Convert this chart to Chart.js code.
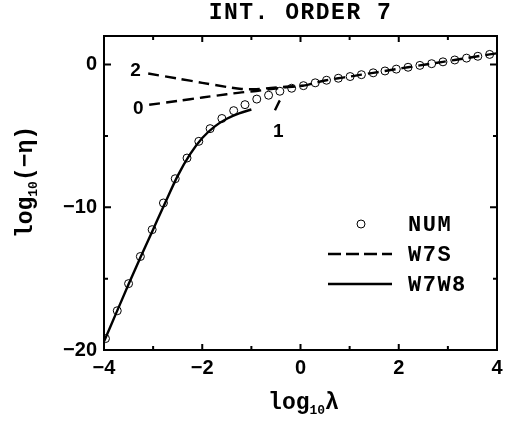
<!DOCTYPE html>
<html lang="en">
<head>
<meta charset="UTF-8">
<title>INT. ORDER 7</title>
<style>
    body {
        margin: 0;
        background: #fff;
    }
    #chartContainer {
        width: 510px;
        height: 424px;
    }
</style>
<script src="https://cdn.jsdelivr.net/npm/chart.js"></script>
</head>
<body>
<div id="chartContainer">
    <canvas id="myChart" width="510" height="424"></canvas>
</div>
<script>
    // NUM (open circles)
    const numX = [-3.97, -3.73, -3.50, -3.26, -3.02, -2.79, -2.55, -2.31, -2.07, -1.84, -1.60, -1.36,
                  -1.13, -0.89, -0.65, -0.42, -0.18, 0.06, 0.30, 0.53, 0.77, 1.01, 1.24, 1.48,
                  1.72, 1.95, 2.19, 2.43, 2.67, 2.90, 3.14, 3.38, 3.61, 3.85];
    const numY = [-19.2, -17.25, -15.35, -13.45, -11.57, -9.70, -8.0, -6.55, -5.38, -4.49, -3.78, -3.23,
                  -2.81, -2.42, -2.15, -1.87, -1.66, -1.48, -1.28, -1.10, -0.96, -0.84, -0.71, -0.58,
                  -0.45, -0.32, -0.19, -0.06, 0.06, 0.19, 0.32, 0.45, 0.58, 0.71];

    // W7W8 (solid)
    const w7w8X = [-4.0, -3.75, -3.5, -3.25, -3.0, -2.75, -2.5, -2.25, -2.0, -1.75, -1.5, -1.25, -1.0];
    const w7w8Y = [-19.4, -17.4, -15.4, -13.45, -11.55, -9.65, -7.8, -6.3, -5.15, -4.35, -3.8, -3.42, -3.15];

    // W7S (dashed), three branches that join near log10(lambda) = 0
    const w7s0X = [-3.08, -2.5, -2.0, -1.5, -1.2, -0.9, -0.6, -0.3];
    const w7s0Y = [-2.82, -2.55, -2.31, -2.08, -1.95, -1.85, -1.72, -1.60];
    const w7s2X = [-3.10, -2.5, -2.0, -1.5, -1.2, -0.9, -0.6, -0.3, 0.06];
    const w7s2Y = [-0.63, -0.98, -1.28, -1.57, -1.71, -1.72, -1.64, -1.55, -1.48];
    const w7s1X = [-0.52, -0.43, -0.35];
    const w7s1Y = [-3.2, -2.57, -2.2];
    const w7sTailX = [0.06, 0.30, 0.53, 0.77, 1.01, 1.24, 1.48, 1.72, 1.95, 2.19, 2.43, 2.67, 2.90, 3.14, 3.38, 3.61, 3.85, 4.0];
    const w7sTailY = [-1.48, -1.28, -1.10, -0.96, -0.84, -0.71, -0.58, -0.45, -0.32, -0.19, -0.06, 0.06, 0.19, 0.32, 0.45, 0.58, 0.71, 0.79];

    // branch labels
    const branchNames = ['2', '0', '1'];
    const branchLabelX = [-3.36, -3.30, -0.45];
    const branchLabelY = [-0.47, -3.09, -4.70];

    const xMajor = [-4, -2, 0, 2, 4];
    const yMajor = [-20, -10, 0];

    const MINUS = '\u2212';
    const pts = (xs, ys) => xs.map((x, i) => ({ x: x, y: ys[i] }));
    const fmt = v => (v < 0 ? MINUS + Math.abs(v) : String(v));

    const dash = [11, 6];
    const lineDs = (label, data, extra) => Object.assign({
        label: label,
        data: data,
        showLine: true,
        borderColor: '#000',
        borderWidth: 2.4,
        pointRadius: 0,
        fill: false,
        order: 1
    }, extra);

    const decor = {
        id: 'decor',
        afterDraw(chart) {
            const ctx = chart.ctx;
            const a = chart.chartArea;
            const xs = chart.scales.x;
            const ys = chart.scales.y;
            ctx.save();
            ctx.strokeStyle = '#000';
            ctx.fillStyle = '#000';
            ctx.lineWidth = 2;
            ctx.setLineDash([]);
            ctx.strokeRect(a.left, a.top, a.right - a.left, a.bottom - a.top);

            // inward ticks on all four sides
            ctx.beginPath();
            xs.ticks.forEach(t => {
                const px = xs.getPixelForValue(t.value);
                const len = xMajor.includes(t.value) ? 6 : 4;
                ctx.moveTo(px, a.bottom); ctx.lineTo(px, a.bottom - len);
                ctx.moveTo(px, a.top); ctx.lineTo(px, a.top + len);
            });
            ys.ticks.forEach(t => {
                const py = ys.getPixelForValue(t.value);
                const len = yMajor.includes(t.value) ? 7 : 4;
                ctx.moveTo(a.left, py); ctx.lineTo(a.left + len, py);
                ctx.moveTo(a.right, py); ctx.lineTo(a.right - len, py);
            });
            ctx.stroke();

            // title
            const cx = (a.left + a.right) / 2;
            ctx.font = 'bold 23px "Liberation Mono"';
            ctx.letterSpacing = '1.5px';
            ctx.textAlign = 'center';
            ctx.textBaseline = 'middle';
            ctx.fillText('INT. ORDER 7', cx, 13);
            ctx.letterSpacing = '0px';

            // axis titles with subscript
            const big = 'bold 23px "Liberation Mono"';
            const small = 'bold 13px "Liberation Mono"';
            const subTitle = (pre, sub, post) => {
                ctx.font = big; const w1 = ctx.measureText(pre).width;
                ctx.font = small; const w2 = ctx.measureText(sub).width;
                ctx.font = big; const w3 = ctx.measureText(post).width;
                let x0 = -(w1 + w2 + w3) / 2;
                ctx.textAlign = 'left';
                ctx.textBaseline = 'alphabetic';
                ctx.font = big; ctx.fillText(pre, x0, 0);
                ctx.font = small; ctx.fillText(sub, x0 + w1, 5);
                ctx.font = big; ctx.fillText(post, x0 + w1 + w2, 0);
            };
            ctx.save();
            ctx.translate(cx + 3, 409);
            subTitle('log', '10', '\u03bb');
            ctx.restore();
            ctx.save();
            ctx.translate(32, 182);
            ctx.rotate(-Math.PI / 2);
            subTitle('log', '10', '(' + MINUS + '\u03b7)');
            ctx.restore();

            // branch labels
            ctx.font = 'bold 19px "Liberation Sans"';
            ctx.textAlign = 'center';
            ctx.textBaseline = 'middle';
            branchNames.forEach((n, i) => {
                ctx.fillText(n, xs.getPixelForValue(branchLabelX[i]), ys.getPixelForValue(branchLabelY[i]));
            });

            // legend
            ctx.lineWidth = 1;
            ctx.beginPath();
            ctx.arc(361, 224, 4, 0, Math.PI * 2);
            ctx.stroke();
            ctx.lineWidth = 2.4;
            ctx.setLineDash([13, 5]);
            ctx.beginPath();
            ctx.moveTo(328, 254); ctx.lineTo(392, 254);
            ctx.stroke();
            ctx.setLineDash([]);
            ctx.beginPath();
            ctx.moveTo(328, 284); ctx.lineTo(392, 284);
            ctx.stroke();
            ctx.font = 'bold 22px "Liberation Mono"';
            ctx.letterSpacing = '1.5px';
            ctx.textAlign = 'left';
            ctx.textBaseline = 'middle';
            ctx.fillText('NUM', 408, 225);
            ctx.fillText('W7S', 408, 255);
            ctx.fillText('W7W8', 408, 285);
            ctx.restore();
        }
    };

    const tickFont = { family: 'Liberation Sans', size: 20, weight: 'bold' };

    new Chart(document.getElementById('myChart').getContext('2d'), {
        type: 'scatter',
        data: {
            datasets: [
                lineDs('W7W8', pts(w7w8X, w7w8Y), { cubicInterpolationMode: 'monotone' }),
                lineDs('W7S', pts(w7s0X.concat(w7sTailX), w7s0Y.concat(w7sTailY)), { borderDash: dash, tension: 0.3 }),
                lineDs('W7S', pts(w7s2X, w7s2Y), { borderDash: dash, tension: 0.3 }),
                lineDs('W7S', pts(w7s1X, w7s1Y), { borderDash: dash }),
                {
                    label: 'NUM',
                    data: pts(numX, numY),
                    showLine: false,
                    pointStyle: 'circle',
                    pointRadius: 4,
                    pointBorderWidth: 1,
                    pointBorderColor: '#000',
                    pointBackgroundColor: 'rgba(255,255,255,0)',
                    order: 5
                }
            ]
        },
        options: {
            responsive: false,
            animation: false,
            devicePixelRatio: 1,
            layout: { padding: { top: 36, right: 13, bottom: 0, left: 0 } },
            plugins: {
                legend: { display: false },
                tooltip: { enabled: false }
            },
            scales: {
                x: {
                    type: 'linear',
                    min: -4,
                    max: 4,
                    grid: { display: false, drawTicks: false },
                    border: { display: false },
                    ticks: {
                        stepSize: 1,
                        autoSkip: false,
                        maxRotation: 0,
                        padding: 6,
                        color: '#000',
                        font: tickFont,
                        callback: v => (xMajor.includes(v) ? fmt(v) : '')
                    },
                    afterFit: s => { s.height = 74; }
                },
                y: {
                    type: 'linear',
                    min: -20,
                    max: 2,
                    grid: { display: false, drawTicks: false },
                    border: { display: false },
                    afterBuildTicks: s => { s.ticks = s.ticks.filter(t => t.value % 5 === 0); },
                    ticks: {
                        stepSize: 5,
                        autoSkip: false,
                        padding: 7,
                        color: '#000',
                        font: tickFont,
                        callback: v => (yMajor.includes(v) ? fmt(v) : '')
                    },
                    afterFit: s => { s.width = 104; }
                }
            }
        },
        plugins: [decor]
    });
</script>
</body>
</html>
